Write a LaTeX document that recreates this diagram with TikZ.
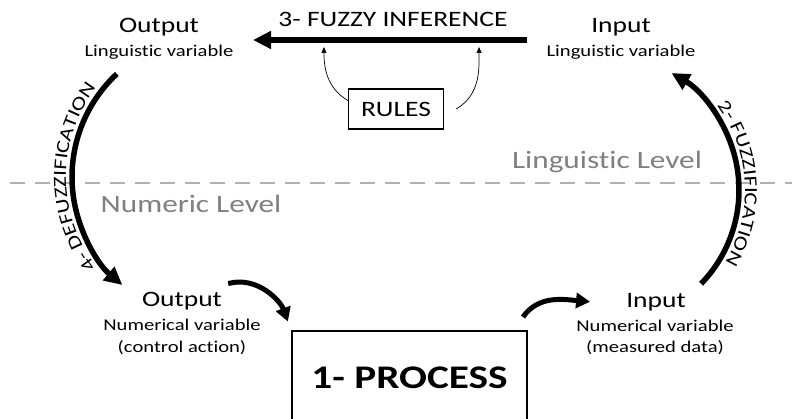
\documentclass[tikz,border=0pt]{standalone}
\usepackage{fontspec}
\setmainfont{Carlito}[FakeStretch=1.25, Ligatures=NoCommon]
\usetikzlibrary{arrows.meta,decorations.text}

\definecolor{levelgray}{RGB}{128,128,128}
\definecolor{dashgray}{RGB}{178,178,178}
\newcommand\arclabelfont{\fontsize{18.5}{22}\selectfont}

\begin{document}
\begin{tikzpicture}[x=1pt,y=1pt,
    title/.style={font=\fontsize{22}{26}\selectfont, anchor=base, inner sep=0pt},
    subtitle/.style={font=\fontsize{16.5}{20}\selectfont, anchor=base, inner sep=0pt},
    level/.style={font=\fontsize{25}{30}\selectfont, text=levelgray, anchor=base, inner sep=0pt},
    bigarrow/.style={line width=5.5pt, -{Triangle[length=18pt,width=17pt]}},
    smallarrow/.style={line width=5pt, -{Triangle[length=14pt,width=15pt]}},
    thinarrow/.style={line width=0.7pt, -{Triangle[length=6pt,width=5pt]}},
    arclabel/.style={decorate, decoration={text along path, text align=center, text={|\arclabelfont|#1}}}
  ]
  \useasboundingbox (0,0) rectangle (792,418);

  % the two levels
  \draw[dashgray, line width=2.5pt, dash pattern=on 15pt off 10pt] (10,235) -- (792,235);
  \node[level] (linglevel) at (607,249) {Linguistic Level};
  \node[level] (numlevel) at (191,205) {Numeric Level};

  % linguistic variables
  \node[title] (outling) at (159,385) {Output};
  \node[subtitle] (outlingsub) at (159,361) {Linguistic variable};
  \node[title] (inling) at (621,385) {Input};
  \node[subtitle] (inlingsub) at (621,361) {Linguistic variable};

  % numerical variables
  \node[title] (outnum) at (182,112) {Output};
  \node[subtitle] (outnumsub) at (182,88) {Numerical variable};
  \node[subtitle] (outnumsub2) at (182,66) {(control action)};
  \node[title] (innum) at (656,111) {Input};
  \node[subtitle] (innumsub) at (655,87) {Numerical variable};
  \node[subtitle] (innumsub2) at (655,66) {(measured data)};

  % plant
  \node[draw, line width=2pt, minimum width=235pt, minimum height=93pt,
    font=\fontsize{33}{40}\selectfont\bfseries] (process) at (409.5,40.5) {1- PROCESS};
  \draw[smallarrow, shorten >=9pt] ([shift={(6pt,8pt)}]outnum.north east) to[out=15, in=110] (process.north west);
  \draw[smallarrow] ([shift={(-5pt,13pt)}]process.north east) to[out=55, in=175] ([xshift=-36pt]innum.west);

  % inference
  \node[draw, line width=1.2pt, minimum width=95pt, minimum height=40pt,
    font=\fontsize{22}{26}\selectfont] (rules) at (396,309) {RULES};
  \node[title] (infer) at (393,391) {3- FUZZY INFERENCE};
  \coordinate (inf-from) at (527,378);
  \coordinate (inf-to) at (253,378);
  \draw[bigarrow] (inf-from) -- coordinate[pos=0.175] (inf-r) coordinate[pos=0.741] (inf-l) (inf-to);
  \draw[thinarrow, shorten >=7pt] (rules.170) to[out=150, in=-90] (inf-l);
  \draw[thinarrow, shorten >=7pt] ([xshift=12pt]rules.east) to[out=30, in=-90] (inf-r);

  % fuzzification / defuzzification
  \coordinate (fz-c) at (604,228);
  \coordinate (defz-c) at (213,241);
  \draw[bigarrow] ([shift={(-44:135pt)}]fz-c) arc[start angle=-44, end angle=60, radius=135pt];
  \path[arclabel={2- FUZZIFICATION}] ([shift={(45:141pt)}]fz-c) arc[start angle=45, end angle=-39, radius=141pt];
  \draw[bigarrow] ([shift={(133:141pt)}]defz-c) arc[start angle=133, end angle=230, radius=141pt];
  \path[arclabel={4- DEFUZZIFICATION}] ([shift={(230:147pt)}]defz-c) arc[start angle=230, end angle=130, radius=147pt];
\end{tikzpicture}
\end{document}
